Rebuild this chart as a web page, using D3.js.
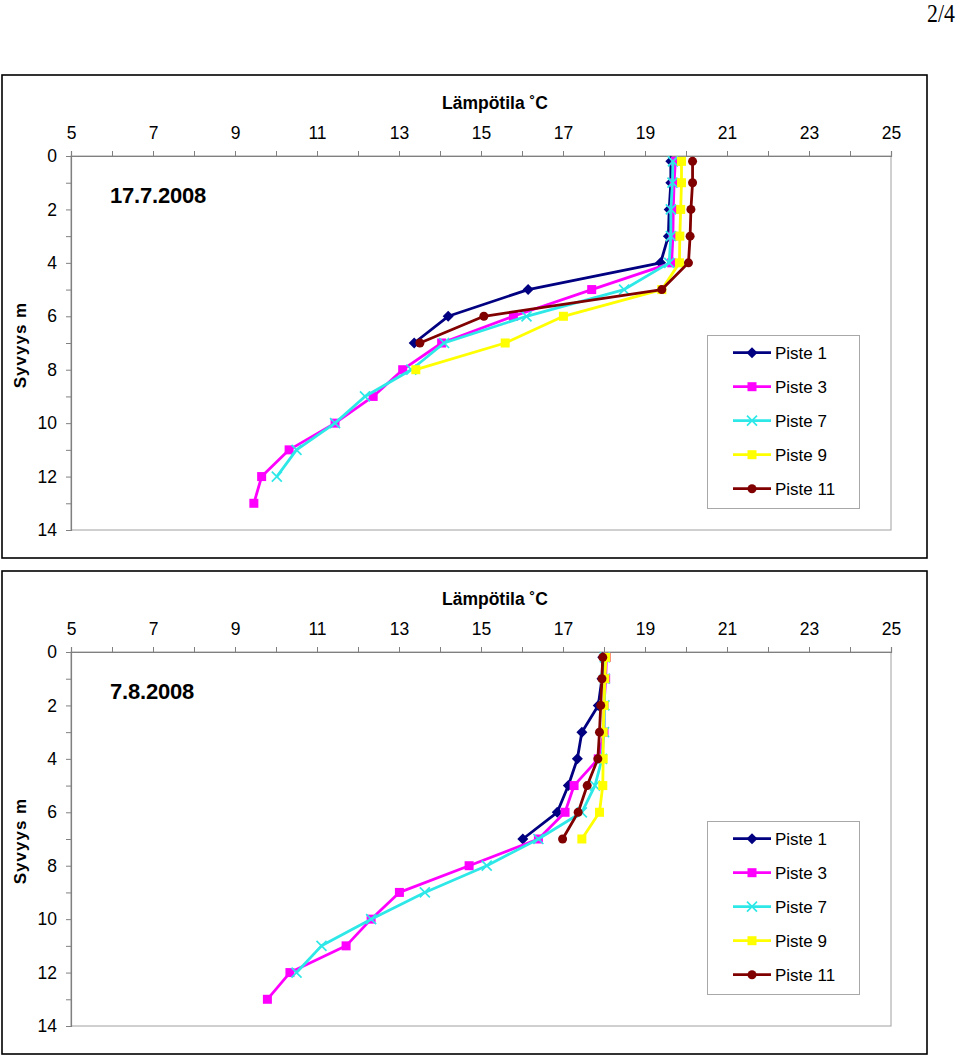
<!DOCTYPE html>
<html><head><meta charset="utf-8">
<script src="https://cdn.jsdelivr.net/npm/d3@7"></script>
<style>
body{margin:0;background:#fff;}
svg{display:block;font-family:"Liberation Sans",Arial,sans-serif;}
</style></head>
<body>
<svg id="c" width="960" height="1056"></svg>
<script>
// ---------- DATA ----------
const seriesNames = ["Piste 1", "Piste 3", "Piste 7", "Piste 9", "Piste 11"];
const xTicks = [5,6,7,8,9,10,11,12,13,14,15,16,17,18,19,20,21,22,23,24,25];
const yTicks = [0,1,2,3,4,5,6,7,8,9,10,11,12,13,14];

// Chart 1: 17.7.2008
const date1 = "17.7.2008";
const depth1_p1  = [0.2,1,2,3,4,5,6,7];
const temp1_p1   = [19.63,19.63,19.59,19.57,19.38,16.15,14.20,13.37];
const depth1_p3  = [0.2,1,2,3,4,5,6,7,8,9,10,11,12,13];
const temp1_p3   = [19.74,19.71,19.69,19.68,19.65,17.70,15.79,14.04,13.09,12.37,11.44,10.32,9.65,9.46];
const depth1_p7  = [0.2,1,2,3,4,5,6,7,8,9,10,11,12];
const temp1_p7   = [19.68,19.67,19.63,19.63,19.59,18.49,16.11,14.10,13.30,12.17,11.44,10.50,10.02];
const depth1_p9  = [0.2,1,2,3,4,5,6,7,8];
const temp1_p9   = [19.89,19.89,19.87,19.85,19.84,19.41,17.01,15.59,13.41];
const depth1_p11 = [0.2,1,2,3,4,5,6,7];
const temp1_p11  = [20.16,20.16,20.12,20.10,20.06,19.41,15.07,13.51];

// Chart 2: 7.8.2008
const date2 = "7.8.2008";
const depth2_p1  = [0.2,1,2,3,4,5,6,7];
const temp2_p1   = [17.97,17.95,17.86,17.46,17.35,17.13,16.86,16.02];
const depth2_p3  = [0.2,1,2,3,4,5,6,7,8,9,10,11,12,13];
const temp2_p3   = [18.06,18.04,18.00,18.00,17.86,17.27,17.05,16.40,14.71,13.01,12.32,11.71,10.34,9.79];
const depth2_p7  = [0.2,1,2,3,4,5,6,7,8,9,10,11,12];
const temp2_p7   = [18.02,18.02,18.01,18.00,17.95,17.78,17.46,16.40,15.14,13.63,12.32,11.11,10.50];
const depth2_p9  = [0.2,1,2,3,4,5,6,7];
const temp2_p9   = [18.05,18.02,18.00,17.98,17.98,17.97,17.89,17.46];
const depth2_p11 = [0.2,1,2,3,4,5,6,7];
const temp2_p11  = [17.97,17.95,17.92,17.89,17.85,17.59,17.37,16.99];

const xTitle = "Lämpötila ˚C";
const yTitle = "Syvyys m";
const pageLabel = "2/4";

// ---------- STYLE ----------
const colors = ["#000080", "#FF00FF", "#2EE8E8", "#FFFF00", "#800000"];
const shapes = ["diamond", "square", "x", "square", "circle"];

const svg = d3.select("#c");

svg.append("text").attr("x", 0).attr("y", 0).attr("text-anchor", "end")
  .attr("font-family", "'Liberation Serif','Times New Roman',serif").attr("font-size", 26)
  .attr("transform", "translate(955,22) scale(0.84,1)")
  .text(pageLabel);

function marker(g, shape, color, x, y) {
  if (shape === "diamond") {
    g.append("path").attr("d", `M${x},${y-5.5}L${x+5.5},${y}L${x},${y+5.5}L${x-5.5},${y}Z`).attr("fill", color);
  } else if (shape === "square") {
    g.append("rect").attr("x", x-4.5).attr("y", y-4.5).attr("width", 9).attr("height", 9).attr("fill", color);
  } else if (shape === "circle") {
    g.append("circle").attr("cx", x).attr("cy", y).attr("r", 4.5).attr("fill", color);
  } else if (shape === "x") {
    g.append("path").attr("d", `M${x-5},${y-5}L${x+5},${y+5}M${x-5},${y+5}L${x+5},${y-5}`)
      .attr("stroke", color).attr("stroke-width", 1.7).attr("fill", "none");
  }
}

function drawChart(offY, legendOffY, dateText, depths, temps) {
  const g = svg.append("g").attr("transform", `translate(0,${offY})`);
  // outer frame
  g.append("rect").attr("x", 2).attr("y", 75).attr("width", 925).attr("height", 483)
    .attr("fill", "none").attr("stroke", "#000").attr("stroke-width", 1.6);

  const x = d3.scaleLinear().domain([5, 25]).range([71, 891]);
  const y = d3.scaleLinear().domain([0, 14]).range([156, 530]);

  // plot area border
  g.append("rect").attr("x", 71).attr("y", 156).attr("width", 820).attr("height", 374)
    .attr("fill", "none").attr("stroke", "#A0A0A0").attr("stroke-width", 1);

  const xAxis = d3.axisTop(x).tickValues(xTicks).tickSize(5).tickPadding(12)
    .tickFormat(d => (d % 2 === 1 ? d : ""));
  const gx = g.append("g").attr("transform", "translate(0,156)").call(xAxis);
  gx.select(".domain").attr("stroke", "#808080").attr("stroke-width", 1.2);
  gx.selectAll(".tick line").attr("stroke", "#808080");
  gx.selectAll("text").attr("font-size", 17.5).attr("font-family", "'Liberation Sans',Arial,sans-serif").attr("fill", "#000");

  const yAxis = d3.axisLeft(y).tickValues(yTicks).tickSize(5).tickPadding(9)
    .tickFormat(d => (d % 2 === 0 ? d : ""));
  const gy = g.append("g").attr("transform", "translate(71,0)").call(yAxis);
  gy.select(".domain").attr("stroke", "#808080").attr("stroke-width", 1.2);
  gy.selectAll(".tick line").attr("stroke", "#808080");
  gy.selectAll("text").attr("font-size", 17.5).attr("font-family", "'Liberation Sans',Arial,sans-serif").attr("fill", "#000");

  // titles
  g.append("text").attr("x", 495).attr("y", 109).attr("text-anchor", "middle")
    .attr("font-size", 17.5).attr("font-weight", "bold").text(xTitle);
  g.append("text").attr("transform", `translate(26,345) rotate(-90)`).attr("text-anchor", "middle")
    .attr("font-size", 17).attr("font-weight", "bold").attr("letter-spacing", 1).text(yTitle);
  g.append("text").attr("x", 110).attr("y", 203)
    .attr("font-size", 22).attr("font-weight", "bold").attr("letter-spacing", -0.2).text(dateText);

  // series
  const line = d3.line().x(d => x(d[0])).y(d => y(d[1]));
  const plot = g.append("g");
  depths.forEach((dep, i) => {
    const pts = dep.map((dd, k) => [temps[i][k], dd]);
    plot.append("path").datum(pts).attr("d", line).attr("fill", "none")
      .attr("stroke", colors[i]).attr("stroke-width", 2.8).attr("stroke-linejoin", "round");
    pts.forEach(p => marker(plot, shapes[i], colors[i], x(p[0]), y(p[1])));
  });

  // legend
  const lg = svg.append("g").attr("transform", `translate(0,${legendOffY})`);
  lg.append("rect").attr("x", 707.5).attr("y", 335.5).attr("width", 152).attr("height", 173)
    .attr("fill", "#fff").attr("stroke", "#A8A8A8").attr("stroke-width", 1);
  seriesNames.forEach((name, i) => {
    const yy = 352.7 + i * 34;
    lg.append("line").attr("x1", 733).attr("x2", 771).attr("y1", yy).attr("y2", yy)
      .attr("stroke", colors[i]).attr("stroke-width", 2.8);
    marker(lg, shapes[i], colors[i], 752, yy);
    lg.append("text").attr("x", 775).attr("y", yy + 6).attr("font-size", 17).text(name);
  });
}

drawChart(0, 0, date1,
  [depth1_p1, depth1_p3, depth1_p7, depth1_p9, depth1_p11],
  [temp1_p1, temp1_p3, temp1_p7, temp1_p9, temp1_p11]);
drawChart(496, 486, date2,
  [depth2_p1, depth2_p3, depth2_p7, depth2_p9, depth2_p11],
  [temp2_p1, temp2_p3, temp2_p7, temp2_p9, temp2_p11]);
</script>
</body></html>
